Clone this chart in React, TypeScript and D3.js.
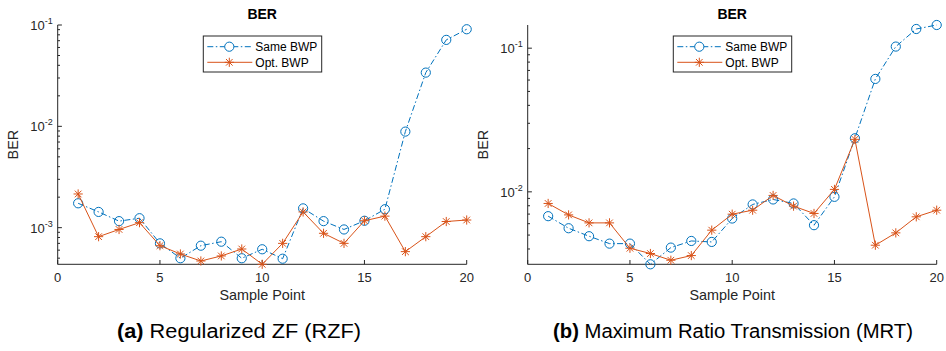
import React from "react";
import * as d3 from "d3";

// sample points on the x axis
const samplePoints = [1, 2, 3, 4, 5, 6, 7, 8, 9, 10, 11, 12, 13, 14, 15, 16, 17, 18, 19, 20];
const xTicks = [0, 5, 10, 15, 20];

// (a) RZF
const rzfSame = [1.74e-3, 1.43e-3, 1.16e-3, 1.24e-3, 7.0e-4, 4.99e-4, 6.64e-4, 7.27e-4, 4.99e-4, 6.12e-4,
  4.94e-4, 1.55e-3, 1.16e-3, 9.6e-4, 1.17e-3, 1.52e-3, 8.87e-3, 3.39e-2, 7.13e-2, 9.08e-2];
const rzfOpt = [2.15e-3, 8.15e-4, 9.6e-4, 1.12e-3, 6.64e-4, 5.5e-4, 4.69e-4, 5.26e-4, 6.16e-4, 4.35e-4,
  7.0e-4, 1.43e-3, 8.8e-4, 7.0e-4, 1.17e-3, 1.3e-3, 5.8e-4, 8.15e-4, 1.15e-3, 1.19e-3];
const rzfDomain = [4.35e-4, 0.1];

// (b) MRT
const mrtSame = [6.77e-3, 5.58e-3, 4.91e-3, 4.36e-3, 4.36e-3, 3.13e-3, 4.09e-3, 4.55e-3, 4.48e-3, 6.52e-3,
  8.17e-3, 8.85e-3, 8.3e-3, 5.86e-3, 9.23e-3, 2.36e-2, 6.11e-2, 0.1026, 0.136, 0.145];
const mrtOpt = [8.3e-3, 6.91e-3, 6.08e-3, 6.08e-3, 4.05e-3, 3.72e-3, 3.34e-3, 3.6e-3, 5.41e-3, 6.99e-3,
  7.45e-3, 9.44e-3, 7.95e-3, 7.07e-3, 1.04e-2, 2.32e-2, 4.25e-3, 5.18e-3, 6.7e-3, 7.45e-3];
const mrtDomain = [3.13e-3, 0.145];

const seriesNames = ["Same BWP", "Opt. BWP"];

const BLUE = "#0072BD";
const ORANGE = "#D95319";
const AXIS = "#262626";
const FONT = "'Liberation Sans', Arial, Helvetica, sans-serif";

function Star({ x, y, r = 4.6 }: { x: number; y: number; r?: number }) {
  const d = r * 0.72;
  return (
    <g stroke={ORANGE} strokeWidth={1}>
      <line x1={x - r} y1={y} x2={x + r} y2={y} />
      <line x1={x} y1={y - r} x2={x} y2={y + r} />
      <line x1={x - d} y1={y - d} x2={x + d} y2={y + d} />
      <line x1={x - d} y1={y + d} x2={x + d} y2={y - d} />
    </g>
  );
}

function Panel({ x0, same, opt, domain, tag, caption, capX, capW }: any) {
  const x = d3.scaleLinear().domain([0, 20]).range([x0, x0 + 409]);
  const y = d3.scaleLog().domain(domain).range([264.3, 25]);
  const [lo, hi] = domain;

  const major: number[] = [];
  const minor: number[] = [];
  for (let e = Math.floor(Math.log10(lo)); e <= Math.ceil(Math.log10(hi)); e++) {
    for (let k = 1; k <= 9; k++) {
      const v = k * Math.pow(10, e);
      if (v < lo * 0.999 || v > hi * 1.001) continue;
      (k === 1 ? major : minor).push(v);
    }
  }

  const line = d3.line<number>()
    .x((_, i) => x(samplePoints[i]))
    .y(d => y(d));

  const left = x0;
  const right = x0 + 409;
  const legX = x0 + 145.6;
  const midX = (left + right) / 2;

  return (
    <g fontFamily={FONT}>
      {/* title */}
      <text x={midX} y={19} textAnchor="middle" fontWeight="bold" fontSize={14} fill="#000">BER</text>

      {/* axes */}
      <line x1={left} y1={264.3} x2={right} y2={264.3} stroke={AXIS} strokeWidth={1} />
      <line x1={left} y1={25} x2={left} y2={264.3} stroke={AXIS} strokeWidth={1} />

      {xTicks.map(t => (
        <g key={"xt" + t}>
          <line x1={x(t)} x2={x(t)} y1={264.3} y2={260} stroke={AXIS} />
          <text x={x(t)} y={282} textAnchor="middle" fontSize={13} fill={AXIS}>{t}</text>
        </g>
      ))}

      {major.map(v => (
        <g key={"ym" + v}>
          <line x1={left} x2={left + 4.2} y1={y(v)} y2={y(v)} stroke={AXIS} />
          <text x={left - 5} y={y(v) + 5} textAnchor="end" fontSize={13} fill={AXIS}>
            10<tspan fontSize={9} dy={-6}>{Math.round(Math.log10(v))}</tspan>
          </text>
        </g>
      ))}
      {minor.map(v => (
        <line key={"yn" + v} x1={left} x2={left + 2.3} y1={y(v)} y2={y(v)} stroke={AXIS} />
      ))}

      <text x={midX} y={300} textAnchor="middle" fontSize={14.4} fill={AXIS}>Sample Point</text>
      <text transform={`translate(${x0 - 39.5},144.6) rotate(-90)`} textAnchor="middle" fontSize={14.4} fill={AXIS}>BER</text>

      {/* series */}
      <path d={line(same) || ""} fill="none" stroke={BLUE} strokeWidth={1} strokeDasharray="6,2.5,1.5,2.5" />
      {same.map((v: number, i: number) => (
        <circle key={"c" + i} cx={x(samplePoints[i])} cy={y(v)} r={4.6} fill="none" stroke={BLUE} strokeWidth={1} />
      ))}
      <path d={line(opt) || ""} fill="none" stroke={ORANGE} strokeWidth={1} />
      {opt.map((v: number, i: number) => (
        <Star key={"s" + i} x={x(samplePoints[i])} y={y(v)} />
      ))}

      {/* legend */}
      <rect x={legX} y={36} width={118.4} height={36} fill="#fff" stroke={AXIS} strokeWidth={1} />
      <line x1={legX + 4} x2={legX + 49} y1={46.7} y2={46.7} stroke={BLUE} strokeDasharray="6,2.5,1.5,2.5" />
      <circle cx={legX + 26} cy={46.7} r={4.6} fill="#fff" stroke={BLUE} />
      <text x={legX + 52} y={51} fontSize={12} fill="#000">{seriesNames[0]}</text>
      <line x1={legX + 4} x2={legX + 49} y1={62.3} y2={62.3} stroke={ORANGE} />
      <Star x={legX + 26} y={62.3} />
      <text x={legX + 52} y={66.6} fontSize={12} fill="#000">{seriesNames[1]}</text>

      {/* caption */}
      <text x={capX} y={338} fontSize={19.5} fill="#000" textLength={capW} lengthAdjust="spacingAndGlyphs">
        <tspan fontWeight="bold">{tag}</tspan> {caption}
      </text>
    </g>
  );
}

export default function App() {
  return (
    <svg width={946} height={351} style={{ position: "absolute", left: 0, top: 0, background: "#fff" }}>
      <rect width={946} height={351} fill="#fff" />
      <Panel x0={57.7} same={rzfSame} opt={rzfOpt} domain={rzfDomain}
        tag="(a)" caption="Regularized ZF (RZF)" capX={117} capW={244} />
      <Panel x0={527.7} same={mrtSame} opt={mrtOpt} domain={mrtDomain}
        tag="(b)" caption="Maximum Ratio Transmission (MRT)" capX={553} capW={360} />
    </svg>
  );
}
